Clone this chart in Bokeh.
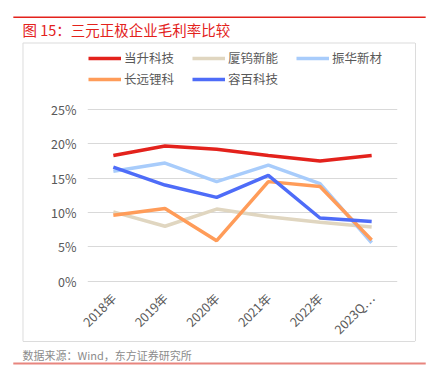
import math
from bokeh.plotting import figure
from bokeh.models import (FactorRange, Range1d, Label, Legend, LegendItem,
                          NumeralTickFormatter, FixedTicker)
from bokeh.embed import file_html
from bokeh.resources import INLINE

categories = ["2018年", "2019年", "2020年", "2021年", "2022年", "2023Q…"]
dangsheng = [0.183, 0.197, 0.192, 0.183, 0.175, 0.183]
xiawu = [0.101, 0.080, 0.105, 0.094, 0.086, 0.079]
zhenhua = [0.160, 0.172, 0.145, 0.169, 0.142, 0.056]
changyuan = [0.096, 0.106, 0.059, 0.145, 0.138, 0.060]
rongbai = [0.166, 0.140, 0.122, 0.154, 0.092, 0.087]

series_names = ["当升科技", "厦钨新能", "振华新材", "长远锂科", "容百科技"]
series_values = [dangsheng, xiawu, zhenhua, changyuan, rongbai]
series_colors = ["#E3221C", "#E0D6C0", "#A8CCFB", "#FF9C59", "#4E6CF8"]
y_ticks = [0.0, 0.05, 0.10, 0.15, 0.20, 0.25]

FONT = "Noto Sans CJK SC"
W, H = 435, 377
FL, FR, FT, FB = 87, 397, 42, 282

p = figure(width=W, height=H, x_range=FactorRange(*categories, range_padding=0),
           y_range=Range1d(-0.0019, 0.3476), output_backend="svg", toolbar_location=None,
           min_border_left=FL, min_border_right=W - FR, min_border_top=FT,
           min_border_bottom=H - FB)
p.outline_line_color = None
p.background_fill_color = "white"
p.border_fill_color = "white"

renderers = []
for name, vals, col in zip(series_names, series_values, series_colors):
    r = p.line(categories, vals, line_color=col, line_width=3.5)
    renderers.append(r)

# axes
p.xgrid.grid_line_color = None
p.ygrid.grid_line_color = "#D9D9D9"
p.ygrid.grid_line_width = 1
p.yaxis.ticker = FixedTicker(ticks=y_ticks)
p.yaxis.formatter = NumeralTickFormatter(format="0%")
for ax in (p.xaxis[0], p.yaxis[0]):
    ax.axis_line_color = None
    ax.major_tick_line_color = None
    ax.minor_tick_line_color = None
    ax.major_label_text_font = FONT
    ax.major_label_text_font_size = "12.5px"
    ax.major_label_text_color = "#595959"
p.yaxis.major_tick_out = 0
p.yaxis.major_label_standoff = 11
p.xaxis.major_label_standoff = 7
p.xaxis.major_label_orientation = math.pi / 4


def rect_label(cx, cy, half_w, half_h, font_size="1px", fill=None):
    return Label(x=cx, y=cy, x_units="canvas", y_units="canvas", text=" ",
                 text_font_size=font_size, text_align="center", text_baseline="middle",
                 padding=dict(left=half_w, right=half_w, top=half_h, bottom=half_h),
                 background_fill_color=fill, border_line_color=None)

# outer box edges and rules (thin pieces in side panels so they are not clipped)
BOX = "#DCDCDC"
p.add_layout(rect_label(218.5, 42.5, 196, 0, fill=BOX), "above")
p.add_layout(rect_label(218.5, 341, 196, 0, fill=BOX), "below")
p.add_layout(rect_label(22.5, 191.5, 0, 147, font_size="3.6px", fill=BOX), "left")
p.add_layout(rect_label(415, 191.5, 0, 147, font_size="3.6px", fill=BOX), "right")
p.add_layout(rect_label(219, 16.75, 206, 0, font_size="1.2px", fill="#E3221C"), "above")
p.add_layout(rect_label(219, 363, 206, 0, font_size="1.6px", fill="#E8857E"), "below")

p.add_layout(Label(x=22, y=29, x_units="canvas", y_units="canvas",
                   text="图 15：三元正极企业毛利率比较", text_font=FONT,
                   text_font_size="14.5px", text_color="#E3221C",
                   text_baseline="middle", text_align="left"), "above")
p.add_layout(Label(x=22, y=354, x_units="canvas", y_units="canvas",
                   text="数据来源：Wind，东方证券研究所", text_font=FONT,
                   text_font_size="11px", text_color="#8C8C8C",
                   text_baseline="middle", text_align="left"), "below")


def make_legend(items, loc):
    return Legend(items=items, orientation="horizontal", location=loc,
                  glyph_width=33, glyph_height=18, label_standoff=3,
                  label_width=52, spacing=16, padding=0, margin=0,
                  label_text_font=FONT, label_text_font_size="12.5px",
                  label_text_color="#595959", border_line_color=None,
                  background_fill_alpha=0)


items1 = [LegendItem(label=series_names[i], renderers=[renderers[i]]) for i in range(3)]
items2 = [LegendItem(label=series_names[i], renderers=[renderers[i]]) for i in range(3, 5)]
p.add_layout(make_legend(items1, (88 - FL, FB - 67)))
p.add_layout(make_legend(items2, (88 - FL, FB - 88)))

open("out.html", "w").write(file_html(p, INLINE))
